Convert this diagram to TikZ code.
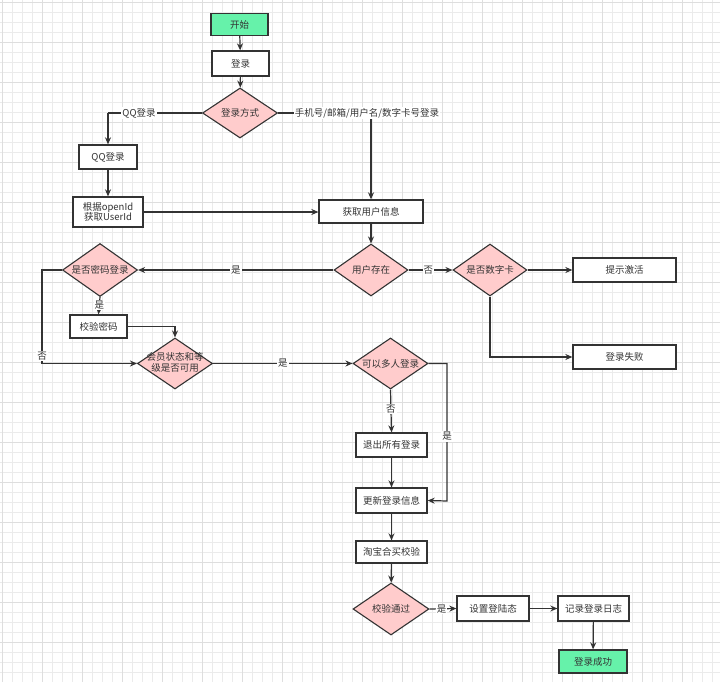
\documentclass[tikz,border=0pt]{standalone}
\usepackage{fontspec}
\setmainfont{Noto Sans CJK SC}
\usetikzlibrary{shapes.geometric,arrows.meta}
\definecolor{lc}{HTML}{333333}
\definecolor{gfill}{HTML}{66F2AA}
\definecolor{pfill}{HTML}{FFCCCC}
\definecolor{gridc}{HTML}{EBEBEB}
\definecolor{gridm}{HTML}{DEDEDE}
\tikzset{
  every node/.style={font=\fontsize{9.5}{11}\selectfont, text=lc},
  box/.style={draw=lc, line width=1.3pt, fill=white, rectangle, inner sep=0pt, align=center},
  gbox/.style={box, fill=gfill},
  dia/.style={draw=lc, line width=1.1pt, fill=pfill, diamond, inner sep=0pt, minimum width=75pt, minimum height=52pt, shape aspect=1.45},
  dtext/.style={align=center, inner sep=0pt},
  conn/.style={draw=lc, line width=1.2pt, -{Stealth[length=7pt,width=6pt]}},
  plain/.style={draw=lc, line width=1.2pt},
  lab/.style={fill=white, inner sep=1pt},
}
\begin{document}
\begin{tikzpicture}[x=1pt,y=-1pt]
\useasboundingbox (0,0) rectangle (720,682);
\fill[white] (0,0) rectangle (720,682);
\foreach \i in {0,...,72} {\draw[gridc, line width=0.5pt] (\i*10+2,0) -- (\i*10+2,682);}
\foreach \i in {0,...,68} {\draw[gridc, line width=0.5pt] (0,\i*10+2) -- (720,\i*10+2);}
\foreach \i in {0,...,18} {\draw[gridm, line width=0.6pt] (\i*40+2,0) -- (\i*40+2,682);}
\foreach \i in {0,...,17} {\draw[gridm, line width=0.6pt] (0,\i*40+2) -- (720,\i*40+2);}

% nodes
\node[gbox, minimum width=57pt, minimum height=22pt] (start) at (239.5,24.5) {开始};
\node[box, minimum width=57pt, minimum height=25pt] (login) at (240.5,63.5) {登录};
\node[dia, minimum height=50pt] (mode) at (240,113) {};
\node[dtext] (modet) at (mode) {登录方式};
\node[box, minimum width=58pt, minimum height=24pt] (qq) at (108,157) {QQ登录};
\node[box, minimum width=70pt, minimum height=30pt, font=\fontsize{9.5}{10.5}\selectfont] (openid) at (108,212) {根据openId\\获取UserId};
\node[box, minimum width=104pt, minimum height=23pt] (getinfo) at (371,211.5) {获取用户信息};
\node[dia, minimum width=74pt] (exist) at (371,270) {};
\node[dtext] (existt) at (exist) {用户存在};
\node[dia, minimum width=74pt] (digit) at (490,270) {};
\node[dtext] (digitt) at (digit) {是否数字卡};
\node[box, minimum width=103pt, minimum height=24pt] (activate) at (624.5,270) {提示激活};
\node[box, minimum width=103pt, minimum height=24pt] (fail) at (624.5,357) {登录失败};
\node[dia, minimum height=53pt] (pwd) at (100,270) {};
\node[dtext] (pwdt) at (pwd) {是否密码登录};
\node[box, minimum width=57pt, minimum height=23pt] (checkpwd) at (98.5,326.5) {校验密码};
\node[dia, minimum height=51pt] (member) at (175,363.5) {};
\node[dtext, font=\fontsize{9.5}{10.5}\selectfont] (membert) at (175,362.5) {会员状态和等\\级是否可用};
\node[dia, minimum height=51pt] (multi) at (390.5,363.5) {};
\node[dtext] (multit) at (multi) {可以多人登录};
\node[box, minimum width=71pt, minimum height=24pt] (logout) at (391.5,445) {退出所有登录};
\node[box, minimum width=71pt, minimum height=25pt] (update) at (391.5,500.5) {更新登录信息};
\node[box, minimum width=71pt, minimum height=22pt] (taobao) at (391.5,552) {淘宝合买校验};
\node[dia, minimum width=76pt] (pass) at (391,609) {};
\node[dtext] (passt) at (pass) {校验通过};
\node[box, minimum width=72pt, minimum height=25pt] (setstate) at (493,608.5) {设置登陆态};
\node[box, minimum width=71pt, minimum height=25pt] (log) at (593.5,608.5) {记录登录日志};
\node[gbox, minimum width=68pt, minimum height=23pt] (success) at (593,661.5) {登录成功};

\coordinate (qqc) at (108,113);
\coordinate (phc) at (371,113);
\coordinate (pwdl) at (42,270);
\coordinate (pwdb) at (42,363.5);
\coordinate (mr) at (447,363.5);
\coordinate (mb) at (447,501);

% connectors
\draw[conn] (start) -- (login);
\draw[conn] (login) -- (mode);
\draw[plain] (mode.west) -- (qqc);
\draw[conn] (qqc) -- (qq.north);
\node[lab] (qqlab) at (139,113) {QQ登录};
\draw[plain] (mode.east) -- (phc);
\draw[conn] (phc) -- (getinfo.north);
\node[lab] (phlab) at (367,113) {手机号/邮箱/用户名/数字卡号登录};
\draw[conn] (qq) -- (openid);
\draw[conn] (openid.east) -- (openid.east -| getinfo.west);
\draw[conn] (getinfo) -- (exist);
\draw[conn] (exist.west) -- node[lab] (l1) {是} (pwd.east);
\draw[conn] (exist.east) -- node[lab, pos=0.45] (l2) {否} (digit.west);
\draw[conn] (digit.east) -- (activate.west);
\draw[conn] (digit.south) |- (fail.west);
\draw[conn] (pwd.south) -- node[lab, pos=0.45] (l3) {是} (checkpwd.north);
\draw[conn] (checkpwd.east) -| (member.north);
\draw[conn] (pwd.west) -- (pwdl) -- node[lab, pos=0.92] (l4) {否} (pwdb) -- (member.west);
\draw[conn] (member.east) -- node[lab, pos=0.5] (l5) {是} (multi.west);
\draw[conn] (multi.south) -- node[lab, pos=0.45] (l6) {否} (logout.north);
\draw[conn] (multi.east) -- (mr) -- node[lab, pos=0.53] (l7) {是} (mb) -- (update.east);
\draw[conn] (logout) -- (update);
\draw[conn] (update) -- (taobao);
\draw[conn] (taobao) -- (pass);
\draw[conn] (pass.east) -- node[lab, pos=0.45] (l8) {是} (setstate.west);
\draw[conn] (setstate) -- (log);
\draw[conn] (log) -- (success);
\end{tikzpicture}
\end{document}
